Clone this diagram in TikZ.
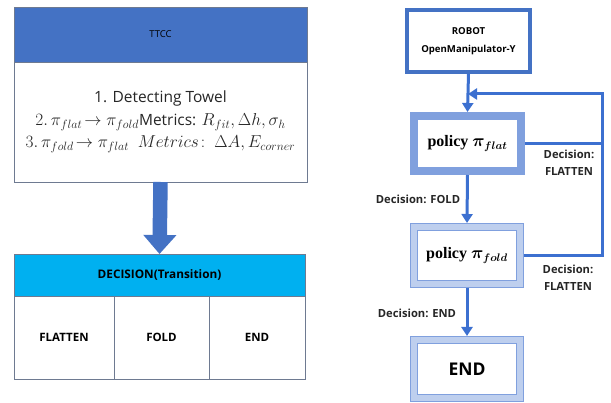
\documentclass[tikz,border=0pt]{standalone}
\usepackage{amsmath}
\usepackage{bm}
\usepackage{fontspec}
\setmainfont{Open Sans}
\newfontfamily\polfont{Liberation Serif}
\usetikzlibrary{arrows.meta}
\definecolor{ttccblue}{RGB}{68,114,196}
\definecolor{decblue}{RGB}{0,176,240}
\definecolor{lineblue}{RGB}{60,112,208}
\definecolor{frameblue}{RGB}{128,160,222}
\definecolor{paleblue}{RGB}{190,207,238}
\definecolor{gridgray}{RGB}{110,122,145}
\newcommand{\mathbig}{\fontsize{16.5}{22.5}\selectfont}
\tikzstyle{grid}=[draw=gridgray,line width=0.7pt,inner sep=0pt,outer sep=0pt]
\tikzstyle{cell}=[grid,fill=white,minimum height=83,font=\bfseries\fontsize{11.5}{14}\selectfont]
\tikzstyle{robotbox}=[draw=ttccblue,line width=4pt,fill=white,align=center,font=\bfseries\fontsize{9.6}{18}\selectfont]
\tikzstyle{flatbox}=[draw=frameblue,line width=8pt,fill=white,font=\polfont\bfseries\fontsize{16}{18}\selectfont]
\tikzstyle{framebox}=[draw=frameblue,line width=1pt,double=paleblue,double distance=6pt,fill=white,outer sep=4pt]
\tikzstyle{flow}=[draw=lineblue,line width=3pt,-{Triangle[width=11pt,length=9pt]}]
\tikzstyle{tag}=[font=\bfseries\fontsize{11.2}{17}\selectfont,align=center,text=black!85]

\begin{document}
\begin{tikzpicture}[x=1pt,y=-1pt]
  \useasboundingbox (0,0) rectangle (611,403);
  % left: TTCC
  \node[grid,fill=ttccblue,minimum width=293,minimum height=55,
        font=\fontsize{9.5}{12}\selectfont] (ttcc) at (160.5,34.5) {TTCC};
  \node[grid,fill=white,anchor=north,minimum width=293,minimum height=120,
        align=center,font=\fontsize{15.5}{22.5}\selectfont,text=black!85] (metrics) at (ttcc.south)
    {1. Detecting Towel\\
     {\mathbig$2.\,\pi_{flat}\!\rightarrow\pi_{fold}$}Metrics: {\mathbig$R_{fit},\Delta h,\sigma_h$}\\
     {\mathbig$3.\,\pi_{fold}\!\rightarrow\pi_{flat}\ \ Metrics\!:\ \Delta A,E_{corner}$}};
  \node[grid,fill=decblue,minimum width=291,minimum height=42,
        font=\bfseries\fontsize{11.8}{14}\selectfont] (decision) at (159.5,275) {DECISION(Transition)};
  \foreach \name/\xc/\cw/\lbl in {flatten/64/100/FLATTEN, fold/161.5/95/FOLD, end/257/96/END}
    \node[cell,minimum width=\cw,anchor=north] (\name) at (\xc,296) {\lbl};
  \draw[ttccblue,line width=14.5pt,-{Triangle[width=32pt,length=19pt]}]
    (metrics.south) -- (decision.north);

  % right: policy loop
  \node[robotbox,minimum width=123,minimum height=62] (robot) at (468.5,41)
    {ROBOT\\OpenManipulator-Y};
  \node[flatbox,minimum width=107,minimum height=55] (pflat) at (467.5,143.5)
    {policy $\bm{\pi}_{\bm{flat}}$};
  \node[framebox,minimum width=106,minimum height=57,
        font=\polfont\bfseries\fontsize{16}{18}\selectfont] (pfold) at (467,255.5)
    {policy $\bm{\pi}_{\bm{fold}}$};
  \node[framebox,minimum width=106,minimum height=58,
        font=\bfseries\fontsize{17.5}{22}\selectfont] (pend) at (467,369) {END};
  \coordinate (loopR) at (602,94);
  \coordinate (merge) at (468,94);
  \draw[flow] (robot.south) -- (pflat.north);
  \draw[flow] (pflat.south) -- (pfold.north);
  \draw[flow] (pfold.south) -- (pend.north);
  \draw[flow,-] (pflat.east) -- (pflat.east -| loopR);
  \draw[flow] (pfold.east) -| (loopR) -- (merge);
  \node[tag] (tfold) at (418,199) {Decision: FOLD};
  \node[tag] (tend) at (417,313) {Decision: END};
  \node[tag] (tflat1) at (569,163) {Decision:\\FLATTEN};
  \node[tag] (tflat2) at (568,278) {Decision:\\FLATTEN};
\end{tikzpicture}
\end{document}
